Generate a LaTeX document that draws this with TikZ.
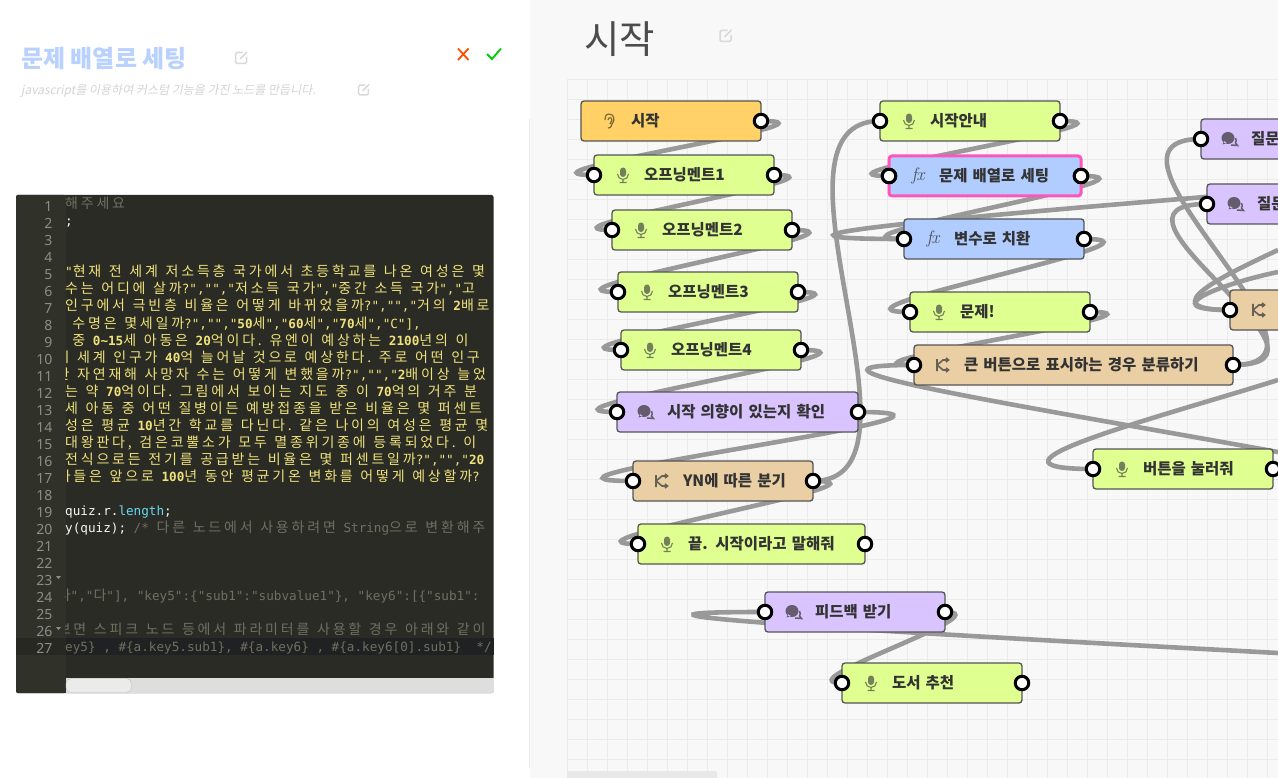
\documentclass[tikz,border=0pt]{standalone}
\usepackage{fontspec}
\newfontfamily\krfont{Noto Sans CJK KR}
\newfontfamily\codekr{Noto Sans CJK KR}[LetterSpace=20.0]
\newfontfamily\codemono{DejaVu Sans Mono}
\newfontfamily\numfont{Noto Sans}
\definecolor{gridgray}{HTML}{EBEBEB}
\definecolor{panelgray}{HTML}{F8F8F8}
\definecolor{wiregray}{HTML}{999999}
\definecolor{micgreen}{HTML}{DFFF90}
\definecolor{fxblue}{HTML}{B1CCFF}
\definecolor{askpurple}{HTML}{DAC4FF}
\definecolor{splittan}{HTML}{E9CFA3}
\definecolor{startorange}{HTML}{FFD166}
\definecolor{pickpink}{HTML}{FF55BB}
\definecolor{edgegray}{HTML}{555555}
\definecolor{editbg}{HTML}{2A2B25}
\definecolor{gutterbg}{HTML}{30322A}
\definecolor{activebg}{HTML}{202122}
\definecolor{strcol}{HTML}{F0E27A}
\definecolor{cmtcol}{HTML}{706F60}
\definecolor{plaincol}{HTML}{F8F8F2}
\definecolor{kwcol}{HTML}{66D9EF}
\pgfdeclarelayer{backlayer}
\pgfdeclarelayer{wirelayer}
\pgfsetlayers{backlayer,wirelayer,main}
\newcommand{\codesetup}{\codekr\fontsize{14}{17}\selectfont\spaceskip=7.62pt\relax\xspaceskip=7.62pt\relax}
\newcommand{\m}[1]{{\codemono\fontsize{12.65}{17}\selectfont #1}}
\newcommand{\mb}[1]{{\codemono\bfseries\fontsize{12.65}{17}\selectfont #1}}
\tikzset{
  flowbox/.style={draw=edgegray,line width=1.3pt,rounded corners=3pt,anchor=west,
    minimum height=40pt,inner xsep=0pt,inner ysep=0pt,outer sep=0pt,align=left,
    text=black!80,font=\krfont\bfseries\fontsize{15.5}{18}\selectfont},
  port/.style={circle,draw=black,line width=3pt,fill=white,minimum size=13.5pt,inner sep=0pt},
  wire/.style={draw=wiregray,line width=4.6pt},
  gridline/.style={draw=gridgray,line width=1pt},
  codetext/.style={anchor=base west,inner sep=0pt,font=\codesetup},
  linenum/.style={anchor=base east,inner sep=0pt,text=white!55!black,font=\numfont\fontsize{14}{17}\selectfont},
  micicon/.pic={
    \fill[micgreen!50!black!70!gray,rounded corners=3pt] (-3,-7.5) rectangle (3,2);
    \draw[micgreen!50!black!70!gray,line width=1.1pt] (-5.5,-1) arc (180:0:5.5) (0,4.5) -- (0,7.5) (-3.5,7.5) -- (3.5,7.5);
  },
  earicon/.pic={
    \draw[black!50!startorange,line width=1.2pt] (-2,7) .. controls (0,8) and (1,6) .. (2,3) .. controls (5,0) and (5,-7) .. (-1,-7) .. controls (-5,-7) and (-5,-3) .. (-5,-1)
      (-2,-1) .. controls (-2,-4) and (2,-4) .. (2,-1) .. controls (2,1) and (0,1) .. (0,3);
  },
  bubbleicon/.pic={
    \fill[askpurple!40!black!70!gray] (-2,-1) ellipse (6.5 and 6) (-6,2) -- (-7.5,5.5) -- (-3,4) -- cycle;
    \draw[askpurple!40!black!70!gray,line width=1.5pt] (5.5,-1) .. controls (6.5,2) .. (5.5,4) -- (7.5,6.5) -- (1,6);
  },
  splitlines/.style={draw=splittan!40!black!70!gray,line width=1.6pt},
  spliticon/.pic={
    \draw[splitlines] (-6,-6) -- (-6,6) (-6,0) -- (0,-5) -- (5,-5) (-6,0) -- (0,5) -- (5,5)
      (3,-7) -- (5.5,-5) -- (3,-3) (3,3) -- (5.5,5) -- (3,7);
  },
  fxicon/.pic={
    \node[text=fxblue!30!black!70!gray,inner sep=0pt,font=\itshape\fontsize{18}{18}\selectfont] (fxmark) {f\kern-0.5pt x};
  },
  editicon/.pic={
    \draw[black!15,line width=1.5pt,rounded corners=1.5pt] (2,-5.5) -- (-5.5,-5.5) -- (-5.5,5.5) -- (5.5,5.5) -- (5.5,-1);
    \draw[black!15,line width=1.5pt] (-1,1) -- (6,-6);
  },
}
% name, left edge, mid height, width, colour, icon, text
\newcommand{\flownode}[7]{
  \node[flowbox,fill=#5,text width=#4pt] (#1) at (#2,#3) {\hspace*{50pt}#7};
  \path (#1.west) ++(29,0) pic {#6};
  \node[port] (#1-out) at (#1.east) {};
}
\newcommand{\codeline}[4]{\node[codetext,text=#3] (code#1) at (#2,{192+17*#1}) {#4};}
\begin{document}
\begin{tikzpicture}[x=1pt,y=-1pt]
\useasboundingbox (0,0) rectangle (1278,778);
%Panels
\begin{pgfonlayer}{backlayer}
\fill[white] (0,0) rectangle (1278,778);
\fill[panelgray] (530,0) rectangle (1278,778);
\draw[gridgray,line width=1pt] (529.5,119) -- (529.5,768);
\foreach \x in {567.5,587.5,...,1278}
  \draw[gridline] (\x,79.5) -- (\x,778);
\foreach \y in {79.5,99.5,...,778}
  \draw[gridline] (567.5,\y) -- (1278,\y);
\fill[black!9,rounded corners=2pt] (567,771) rectangle (717,779);
\end{pgfonlayer}
%Heading left
\node[anchor=base west,inner sep=0pt,text=fxblue!90!white,font=\krfont\bfseries\fontsize{24}{28}\selectfont] (settitle) at (21,68) {문제 배열로 세팅};
\path (241,58) pic {editicon};
\node[anchor=base west,inner sep=0pt,text=black!17,font=\krfont\fontsize{12}{14}\selectfont] (setnote) at (21,94.5) {\addfontfeature{FakeSlant=0.2}javascript를 이용하여 커스텀 기능을 가진 노드를 만듭니다.};
\path (363.5,90) pic[scale=.9] {editicon};
\draw[orange!60!red,line width=1.8pt] (458,48.5) -- (468.5,60) (468.5,48.5) -- (458,60);
\draw[green!80!black,line width=1.8pt] (487,54) -- (492,59) -- (501,48.5);
%Heading right
\node[anchor=base west,inner sep=0pt,text=black!70,font=\krfont\fontsize{38.5}{40}\selectfont] (flowtitle) at (584,54) {시작};
\path (725.5,36) pic {editicon};
%Editor
\fill[editbg,rounded corners=2pt] (16,195) rectangle (493.5,693);
\fill[gutterbg,rounded corners=2pt] (16,195) rectangle (66,693);
\fill[activebg] (66,638) rectangle (493.5,655);
\fill[gutterbg!80!black] (16,638) rectangle (66,655);
\fill[black!13] (66,678) rectangle (493.5,693);
\draw[black!25,fill=black!8,rounded corners=5pt] (66,678.5) rectangle (131.5,692.5);
\foreach \n in {1,...,27}
  \node[linenum] (num\n) at (52.5,{194.5+17*\n}) {\n};
\fill[white!55!black] (56,576) -- (61,576) -- (58.5,579) -- cycle;
\fill[white!55!black] (56,627) -- (61,627) -- (58.5,630) -- cycle;
\begin{scope}
\clip (65.5,195) rectangle (493.5,678);
\codeline{1}{65}{cmtcol}{해주세요}
\codeline{2}{65}{plaincol}{\m{;}}
\codeline{5}{65}{strcol}{\m{"}현재 전 세계 저소득층 국가에서 초등학교를 나온 여성은 몇}
\codeline{6}{65}{strcol}{수는 어디에 살까\m{?","","}저소득 국가\m{","}중간 소득 국가\m{","}고}
\codeline{7}{65}{strcol}{인구에서 극빈층 비율은 어떻게 바뀌었을까\m{?","","}거의 \mb{2}배로}
\codeline{8}{72.2}{strcol}{수명은 몇세일까\m{?","","}\mb{50}세\m{","}\mb{60}세\m{","}\mb{70}세\m{","C"],}}
\codeline{9}{72.2}{strcol}{중 \mb{0\char`\~15}세 아동은 \mb{20}억이다. 유엔이 예상하는 \mb{2100}년의 이}
\codeline{10}{56.5}{strcol}{이 세계 인구가 \mb{40}억 늘어날 것으로 예상한다. 주로 어떤 인구}
\codeline{11}{56.5}{strcol}{한 자연재해 사망자 수는 어떻게 변했을까\m{?","","}\mb{2}배이상 늘었}
\codeline{12}{65}{strcol}{는 약 \mb{70}억이다. 그림에서 보이는 지도 중 이 \mb{70}억의 거주 분}
\codeline{13}{65}{strcol}{세 아동 중 어떤 질병이든 예방접종을 받은 비율은 몇 퍼센트}
\codeline{14}{65}{strcol}{성은 평균 \mb{10}년간 학교를 다닌다. 같은 나이의 여성은 평균 몇}
\codeline{15}{65}{strcol}{대왕판다, 검은코뿔소가 모두 멸종위기종에 등록되었다. 이}
\codeline{16}{65}{strcol}{전식으로든 전기를 공급받는 비율은 몇 퍼센트일까\m{?","","}\mb{20}}
\codeline{17}{57.6}{strcol}{가들은 앞으로 \mb{100}년 동안 평균기온 변화를 어떻게 예상할까\m{?}}
\codeline{19}{65}{plaincol}{\m{quiz.r.\textcolor{kwcol}{length};}}
\codeline{20}{65}{plaincol}{\m{y(quiz);} \textcolor{cmtcol}{\m{/*} 다른 노드에서 사용하려면 \m{String}으로 변환해주}}
\codeline{24}{57.6}{cmtcol}{나\m{","}다\m{"], "key5":\{"sub1":"subvalue1"\}, "key6":[\{"sub1":}}
\codeline{26}{57.6}{cmtcol}{보면 스피크 노드 등에서 파라미터를 사용할 경우 아래와 같이}
\codeline{27}{65}{cmtcol}{\m{ey5\} , \#\{a.key5.sub1\}, \#\{a.key6\} , \#\{a.key6[0].sub1\}\hspace{15.2pt}*/}}
\end{scope}
%Left column
\flownode{start}{581}{121}{180}{startorange}{earicon}{시작}
\flownode{ment1}{594}{175}{180}{micgreen}{micicon}{오프닝멘트1}
\flownode{ment2}{612}{230}{180}{micgreen}{micicon}{오프닝멘트2}
\flownode{ment3}{618}{292}{180}{micgreen}{micicon}{오프닝멘트3}
\flownode{ment4}{621}{350}{180}{micgreen}{micicon}{오프닝멘트4}
\flownode{confirm}{617}{412}{241}{askpurple}{bubbleicon}{시작 의향이 있는지 확인}
\flownode{yesno}{633}{481}{180}{splittan}{spliticon}{YN에 따른 분기}
\flownode{finish}{638}{544}{227}{micgreen}{micicon}{끝. 시작이라고 말해줘}
%Middle column
\flownode{guide}{880}{121}{180}{micgreen}{micicon}{시작안내}
\flownode{quizset}{889}{176}{192}{fxblue}{fxicon}{문제 배열로 세팅}
\flownode{swap}{904}{239}{180}{fxblue}{fxicon}{변수로 치환}
\flownode{quiz}{910}{312}{180}{micgreen}{micicon}{문제!}
\flownode{bigbtn}{914}{365}{319}{splittan}{spliticon}{큰 버튼으로 표시하는 경우 분류하기}
\flownode{press}{1093}{469}{180}{micgreen}{micicon}{버튼을 눌러줘}
%Bottom
\flownode{review}{765}{612}{180}{askpurple}{bubbleicon}{피드백 받기}
\flownode{book}{842}{683}{180}{micgreen}{micicon}{도서 추천}
%Right column
\flownode{askone}{1201}{139}{180}{askpurple}{bubbleicon}{질문}
\flownode{asktwo}{1207}{204}{180}{askpurple}{bubbleicon}{질문}
\flownode{rsplit}{1230}{310}{180}{splittan}{spliticon}{}
\foreach \p in {ment1,ment2,ment3,ment4,confirm,yesno,finish,guide,quizset,swap,quiz,bigbtn,press,review,book,askone,asktwo,rsplit}
  \node[port] (\p-in) at (\p.west) {};
%Ends outside the view
\coordinate (swapfar) at (1278,191);
\coordinate (bigfar) at (1278,452);
\coordinate (pressfar) at (1278,380);
\coordinate (reviewfar) at (1278,653);
\coordinate (splitfara) at (1278,250);
\coordinate (splitfarb) at (1278,272);
%Wires
\begin{pgfonlayer}{wirelayer}
\draw[wire] (start.east) .. controls +(100,0) and +(-100,0) .. (ment1.west);
\draw[wire] (ment1.east) .. controls +(90,0) and +(-90,0) .. (ment2.west);
\draw[wire] (ment2.east) .. controls +(100,0) and +(-100,0) .. (ment3.west);
\draw[wire] (ment3.east) .. controls +(100,0) and +(-100,0) .. (ment4.west);
\draw[wire] (ment4.east) .. controls +(110,0) and +(-110,0) .. (confirm.west);
\draw[wire] (confirm.east) .. controls +(180,0) and +(-165,0) .. (yesno.west);
\draw[wire] (yesno.east) .. controls +(100,0) and +(-100,0) .. (finish.west);
\draw[wire] (yesno.east) .. controls +(130,0) and +(-130,0) .. (guide.west);
\draw[wire] (guide.east) .. controls +(100,0) and +(-100,0) .. (quizset.west);
\draw[wire] (quizset.east) .. controls +(105,0) and +(-105,0) .. (swap.west);
\draw[wire] (swap.east) .. controls +(110,0) and +(-110,0) .. (quiz.west);
\draw[wire] (quiz.east) .. controls +(100,0) and +(-100,0) .. (bigbtn.west);
\draw[wire] (bigbtn.east) .. controls +(130,0) and +(-130,0) .. (askone.west);
\draw[wire] (bigbtn.east) .. controls +(130,0) and +(-130,0) .. (asktwo.west);
\draw[wire] (review.east) .. controls +(60,0) and +(-60,0) .. (book.west);
\draw[wire] (swap.west) .. controls +(-200,0) and (960,217) .. (swapfar);
\draw[wire] (bigbtn.west) .. controls +(-150,0) and (1000,402) .. (bigfar);
\draw[wire] (press.west) .. controls +(-135,0) and (1160,417) .. (pressfar);
\draw[wire] (review.west) .. controls +(-210,0) and (830,629) .. (reviewfar);
\draw[wire] (rsplit.west) .. controls +(-80,0) and (1225,275) .. (splitfara);
\draw[wire] (rsplit.west) .. controls +(-80,0) and (1225,283) .. (splitfarb);
\end{pgfonlayer}
%Selected node
\draw[pickpink,line width=3pt,rounded corners=3pt] (quizset.south west) rectangle (quizset.north east);
\node[port] (quizset-ringin) at (quizset.west) {};
\node[port] (quizset-ringout) at (quizset.east) {};
\end{tikzpicture}
\end{document}
